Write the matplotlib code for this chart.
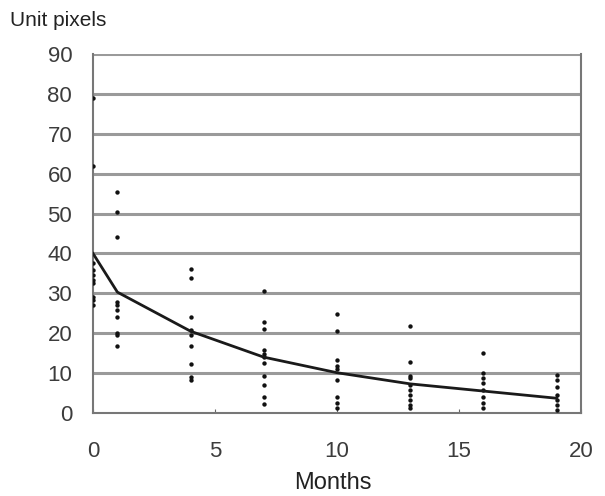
import matplotlib.pyplot as plt

# Data
months = [0, 1, 4, 7, 10, 13, 16, 19]
samples = {
    0: [79, 62, 37.6, 35.8, 34.6, 33.3, 32.6, 29, 28.3, 27],
    1: [55.4, 50.4, 44, 27.8, 27, 25.8, 24, 20, 19.5, 16.8],
    4: [36, 33.8, 24, 20.8, 19.5, 16.8, 12.3, 9, 8.3],
    7: [30.6, 22.9, 21, 15.8, 14.8, 14, 12.5, 9.3, 7, 4, 2.3],
    10: [24.8, 20.5, 13.3, 11.9, 11, 8.3, 4.1, 2.6, 1.3],
    13: [21.9, 12.8, 9.4, 8.8, 7, 5.8, 4.5, 3.3, 2, 1.3],
    16: [15.1, 10.1, 8.7, 7.4, 5.8, 4.1, 2.4, 1.2],
    19: [9.5, 8.3, 6.6, 4.5, 3.3, 2, 0.8],
}
trend = [40, 30.3, 20.5, 14, 10.1, 7.3, 5.5, 3.7]
x_ticks = [0, 5, 10, 15, 20]
y_ticks = [0, 10, 20, 30, 40, 50, 60, 70, 80, 90]

plt.rcParams['font.family'] = ['Liberation Sans', 'DejaVu Sans']

fig = plt.figure(figsize=(6.05, 4.96), dpi=100)
ax = fig.add_axes([93 / 605, (496 - 413) / 496, (581 - 93) / 605, (413 - 54) / 496])

# Grey horizontal bands
for y in y_ticks[1:]:
    ax.axhline(y, color='#9a9a9a', linewidth=2.2, zorder=1)

for m in months:
    ax.scatter([m] * len(samples[m]), samples[m], s=10, color='#111111', zorder=3, linewidths=0)

ax.plot(months, trend, color='#1a1a1a', linewidth=2, zorder=4)

ax.set_xlim(0, 20)
ax.set_ylim(0, 90)
ax.set_xticks(x_ticks)
ax.set_yticks(y_ticks)
ax.tick_params(axis='x', direction='in', length=3, color='#666666', labelsize=16,
               labelcolor='#3c3c3c', pad=20)
ax.tick_params(axis='y', length=0, labelsize=16, labelcolor='#3c3c3c', pad=15)

for side in ['left', 'right', 'bottom']:
    ax.spines[side].set_color('#777777')
    ax.spines[side].set_linewidth(1.5)
ax.spines['top'].set_visible(False)

fig.text(10 / 605, 1 - 20 / 496, 'Unit pixels', fontsize=15, va='center', ha='left', color='#222222')
fig.text(333 / 605, 1 - 483 / 496, 'Months', fontsize=17, va='center', ha='center', color='#222222')

fig.savefig('out.png', dpi=100)
